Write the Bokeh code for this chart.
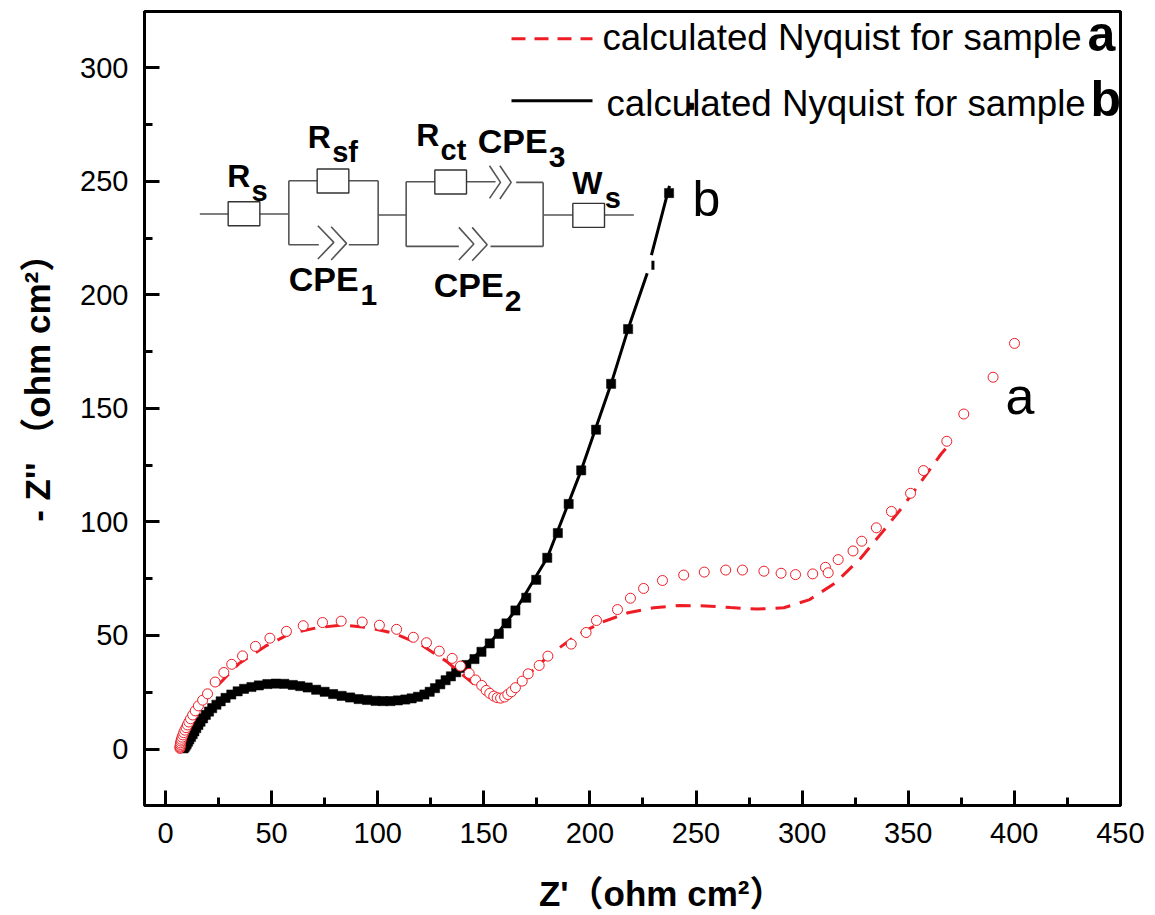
from bokeh.plotting import figure
from bokeh.models import Label, FixedTicker
from bokeh.embed import file_html
from bokeh.resources import INLINE

# measured points, sample a
a_x = [6.8,6.85,6.9,7,7.1,7.3,7.5,7.8,8.2,8.6,9.1,9.7,10.3,11,11.8,12.8,14,15.5,17.5,19.8,23.4,27.5,31.2,36.3,42.4,49.2,57,64.9,74,82.8,92.7,100.8,108.9,116.8,123,129,135.1,139,143.1,146.1,149,151.1,152.8,154.7,156.3,157.9,159.8,161.3,163,164.9,168.1,170.9,176.1,180.2,191.2,198.2,203.1,213,219.1,225.3,234.2,244.2,253.9,264,271.9,282,290.1,296.9,305,311,312.3,317,324,328.1,335,342.1,351.1,357.2,368.2,376.2,390,400.1]
a_y = [0.3,0.8,1.3,2,2.7,3.5,4.3,5.2,6.2,7.2,8.3,9.4,10.6,11.9,13.3,15,16.8,19,21.5,24.3,29.5,33.7,37.3,41,45.2,48.8,51.8,54.3,55.7,56.3,55.9,54.5,52.7,49.2,46.8,43.1,39.9,36.5,33.3,30.4,28,25.8,24.5,23.3,22.6,22.4,22.9,24,25.2,27,29.9,33.1,36.8,40.9,46.2,51.3,56.6,61.4,66.4,70.7,74.2,76.6,77.9,78.8,78.8,78.3,77.4,76.8,77.1,80,77.6,83.4,87.2,91.5,97.4,104.6,112.6,122.6,135.5,147.5,163.7,178.6]

# calculated Nyquist, sample a
calc_a_x = [7,10,15,18,22.8,34.5,47.1,58.9,71.5,83.3,95.8,107.9,120.2,132.3,144.5,152,157.9,163,168.7,181.4,193.2,205.8,218,230.1,242.2,254.5,266.3,278.8,291.4,303.6,315.7,327.5,337.8,347.6,356.5,365.5,368]
calc_a_y = [0,7,16,21,26.3,37.5,45.3,50.9,53.4,54.6,53.4,50.9,46,38.7,29.2,24,22,25,30.9,41.7,49.7,55.9,60,62.2,63.2,63,62.3,61.6,62.2,65.8,73.2,83.9,95.5,106.9,118.3,129.9,132.6]

# measured points, sample b
b_x = [8.5,9,9.5,10,10.6,11.2,12,12.8,13.6,14.5,15.5,16.5,17.7,19,20.5,22,24,26,28.3,31,34,37,40.5,44,48,52,56,60,63.5,67,71,75,79,83,87,91,95,99,102.5,106,109.5,113,116,119,122,124.5,127,129.5,132,134.5,137,139.5,141.8,145.6,148.9,152.8,157.1,160.7,164.9,170,174.7,179.9,184.9,190,195.9,202.9,210,218,237.3]
b_y = [0.3,0.8,1.5,2.3,3.2,4.2,5.3,6.5,7.8,9.2,10.6,12,13.5,15,16.5,18,19.5,21,22.5,24,25.4,26.5,27.3,28,28.6,28.8,28.7,28.2,27.7,27.1,26.1,25.2,24.2,23.4,22.7,22,21.6,21.2,21.1,21.1,21.4,21.8,22.3,23,24,25.2,26.8,28.5,30.3,32,33.8,35.7,37,39.6,42.8,46.5,50.7,55.3,61,66.6,74.5,84.2,95.1,107.9,122.7,140.6,160.8,184.9,244.8]
b_stray_x = [247.5]
b_stray_y = [283]

# calculated Nyquist, sample b (broken where the reference line is broken)
nan = float("nan")
calc_b_x = [9,14,24,38,56,76,101,122,137,152.8,164.9,179.9,195.9,210,218,227,nan,229.7,229.7,nan,229,237.5]
calc_b_y = [0,7,19,27,28.7,25,21.2,24,33.8,46.5,61,84.2,122.7,160.8,184.9,209.5,nan,211,215,nan,217.5,248]

x_ticks = list(range(0, 451, 50))
x_minor = list(range(25, 451, 50))
y_ticks = list(range(0, 301, 50))
y_minor = list(range(25, 301, 50))

legend_a = "calculated Nyquist for sample"
legend_b = "calculated Nyquist for sample"

FONT = "'Liberation Sans', 'Noto Sans CJK SC'"
RED = "#ee1c25"

# picture position -> data position (for the annotations only)
X = lambda px: (px - 165.0) / 2.122
Y = lambda py: (748.5 - py) / 2.272

p = figure(
    width=1145, height=905, output_backend="svg", toolbar_location=None,
    x_range=(X(144), X(1120)), y_range=(Y(805), Y(10.7)),
    frame_width=976, frame_height=794,
    min_border_left=144, min_border_top=11, min_border_right=25, min_border_bottom=100,
    background_fill_color="white", border_fill_color="white",
)
p.grid.visible = False
p.outline_line_color = "black"
p.outline_line_width = 3
p.outline_line_alpha = 1

for ax, maj, mnr in ((p.xaxis[0], x_ticks, x_minor), (p.yaxis[0], y_ticks, y_minor)):
    ax.ticker = FixedTicker(ticks=maj, minor_ticks=mnr)
    ax.axis_line_width = 3
    ax.axis_line_color = "black"
    ax.major_tick_in = 15
    ax.major_tick_out = 0
    ax.minor_tick_in = 8
    ax.minor_tick_out = 0
    ax.major_tick_line_width = 3
    ax.minor_tick_line_width = 3
    ax.major_tick_line_color = "black"
    ax.minor_tick_line_color = "black"
    ax.major_label_text_font = "Liberation Sans"
    ax.major_label_text_font_size = "29px"
    ax.major_label_text_color = "black"
    ax.axis_label_text_font = FONT
    ax.axis_label_text_font_style = "bold"
    ax.axis_label_text_font_size = "35px"
    ax.axis_label_text_color = "black"

p.xaxis[0].major_label_standoff = 17
p.yaxis[0].major_label_standoff = 16
p.yaxis[0].major_label_orientation = "horizontal"
p.xaxis[0].axis_label = "\u00a0" * 6 + "Z'\uff08ohm cm\u00b2\uff09"
p.yaxis[0].axis_label = "\u00a0" * 6 + "- Z'' \uff08ohm cm\u00b2\uff09"
p.xaxis[0].axis_label_standoff = 28
p.yaxis[0].axis_label_standoff = 20

# series
p.line(calc_b_x, calc_b_y, line_color="black", line_width=3)
p.scatter(b_x, b_y, marker="square", size=9.2, fill_color="black", line_color="black", line_width=0.5)
p.scatter(b_stray_x, b_stray_y, marker="square", size=6, fill_color="black", line_color="black")
p.line(calc_a_x, calc_a_y, line_color=RED, line_width=3, line_dash="15 10")
p.scatter(a_x, a_y, marker="circle", size=10, fill_color="white", line_color=RED, line_width=1)


def label(px, py, text, size, bold=False):
    # the baseline lands about a third of the font size lower than asked for
    p.add_layout(Label(x=X(px), y=Y(py - 0.33 * size), text=text, text_font="Liberation Sans",
                       text_font_size=f"{size}px", text_font_style="bold" if bold else "normal",
                       text_color="black", text_baseline="alphabetic", text_align="left"))


# legend
p.line([X(511), X(592)], [Y(38), Y(38)], line_color=RED, line_width=3, line_dash="14 9")
p.line([X(511), X(592)], [Y(100), Y(100)], line_color="black", line_width=3)
label(602, 49, legend_a, 36.7)
label(606, 115, legend_b, 36.7)
label(1087, 50, "a", 50, True)
label(1090, 115, "b", 50, True)

# curve letters
label(1005, 413, "a", 52)
label(692, 215, "b", 50)

# equivalent circuit, in crop coordinates of the drawing
Zx = lambda z: X(170 + z / 3)
Zy = lambda z: Y(100 + z / 3)
WIRE = "#555555"
wires = [
    [(88, 340), (173, 340)], [(268, 340), (355, 340)],
    [(355, 240), (355, 432)], [(355, 240), (440, 240)], [(535, 240), (623, 240)],
    [(623, 240), (623, 432)], [(355, 432), (445, 432)], [(535, 432), (623, 432)],
    [(623, 343), (707, 343)],
    [(707, 243), (707, 437)], [(707, 243), (795, 243)], [(888, 243), (975, 243)],
    [(1037, 245), (1118, 245)], [(1118, 245), (1118, 437)],
    [(707, 437), (865, 437)], [(960, 437), (1118, 437)],
    [(1118, 343), (1207, 343)], [(1302, 343), (1390, 343)],
]
chevrons = [
    [(442, 375), (490, 425), (442, 475)], [(482, 378), (528, 428), (482, 478)],
    [(865, 380), (910, 430), (865, 478)], [(905, 380), (950, 432), (905, 480)],
    [(957, 195), (990, 245), (957, 293)], [(988, 195), (1022, 245), (988, 295)],
]
boxes = [(173, 268, 303, 375), (440, 535, 205, 277), (793, 888, 208, 280), (1207, 1302, 308, 380)]

for w in wires + chevrons:
    p.line([Zx(a) for a, _ in w], [Zy(b) for _, b in w], line_color=WIRE, line_width=1.6)
for x0, x1, y0, y1 in boxes:
    xs = [Zx(x0), Zx(x1), Zx(x1), Zx(x0), Zx(x0)]
    ys = [Zy(y0), Zy(y0), Zy(y1), Zy(y1), Zy(y0)]
    p.patch(xs, ys, fill_color="white", line_color="#333333", line_width=1.4)

label(226.7, 186, "R", 32, True)
label(251, 200, "s", 29, True)
label(307.3, 147.3, "R", 32, True)
label(331.7, 161, "sf", 29, True)
label(415.7, 145, "R", 32, True)
label(440, 159.3, "ct", 29, True)
label(477.3, 151.7, "CPE", 34, True)
label(548.3, 165.7, "3", 30, True)
label(571.7, 193.3, "W", 32, True)
label(604.3, 207.3, "s", 29, True)
label(288.3, 289.3, "CPE", 34, True)
label(360, 304, "1", 30, True)
label(433.3, 295.7, "CPE", 34, True)
label(504.3, 310, "2", 30, True)

open("out.html", "w").write(file_html(p, INLINE))
